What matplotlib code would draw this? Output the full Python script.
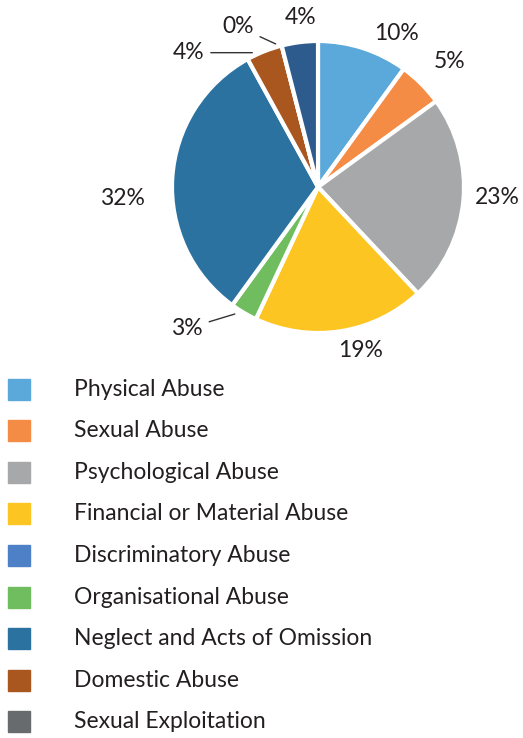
import matplotlib.pyplot as plt
from matplotlib.patches import Rectangle

plt.rcParams["font.family"] = ["Lato", "DejaVu Sans"]

# pie order (clockwise from 12 o'clock)
categories = [
    "Physical Abuse",
    "Sexual Abuse",
    "Psychological Abuse",
    "Financial or Material Abuse",
    "Discriminatory Abuse",
    "Organisational Abuse",
    "Neglect and Acts of Omission",
    "Domestic Abuse",
    "Sexual Exploitation",
    "Other",
]
values = [10, 5, 23, 19, 0, 3, 32, 4, 0, 4]
colors = [
    "#5ba8db", "#f58c45", "#a6a8a9", "#fdc521", "#4d80c6",
    "#70bd5f", "#2b72a1", "#a9561f", "#686b6d", "#2e5b8e",
]
legend_items = categories[:9]

text_col = "#231f20"
fs = 16.5

fig = plt.figure(figsize=(5.23, 7.38), dpi=100)
W, H = 523, 738
cx, cy, r = 318, 187, 146
ax = fig.add_axes([(cx - r) / W, (H - cy - r) / H, 2 * r / W, 2 * r / H])

shown = [i for i, v in enumerate(values) if v > 0 or categories[i] == "Sexual Exploitation"]
wedges, _ = ax.pie(
    [values[i] for i in shown],
    colors=[colors[i] for i in shown],
    startangle=90,
    counterclock=False,
    radius=1,
    wedgeprops=dict(edgecolor="white", linewidth=3),
)
ax.set_xlim(-1, 1)
ax.set_ylim(-1, 1)
ax.set_aspect("equal")

# label layout: text position, optional leader end (radius units)
layout = {
    "Physical Abuse": ((0.54, 1.05), None),
    "Sexual Abuse": ((0.90, 0.86), None),
    "Psychological Abuse": ((1.23, -0.07), None),
    "Financial or Material Abuse": ((0.29, -1.12), None),
    "Organisational Abuse": ((-0.90, -0.97), (-0.57, -0.87)),
    "Neglect and Acts of Omission": ((-1.34, -0.08), None),
    "Domestic Abuse": ((-0.89, 0.92), (-0.45, 0.92)),
    "Sexual Exploitation": ((-0.55, 1.10), (-0.29, 0.98)),
    "Other": ((-0.12, 1.16), None),
}
for i in shown:
    pos, tip = layout[categories[i]]
    label = f"{values[i]}%"
    if tip is None:
        ax.text(pos[0], pos[1], label, ha="center", va="center",
                fontsize=fs, color=text_col, clip_on=False)
    else:
        ax.annotate(label, xy=tip, xytext=pos, ha="center", va="center",
                    fontsize=fs, color=text_col, annotation_clip=False,
                    arrowprops=dict(arrowstyle="-", color="#333333", lw=1,
                                    shrinkA=3, shrinkB=0))

# legend
row0, step = 389, 41.6
for k, name in enumerate(legend_items):
    yc = row0 + k * step
    fig.patches.append(Rectangle((8 / W, 1 - (yc + 10.5) / H), 22 / W, 21 / H,
                                 transform=fig.transFigure,
                                 color=colors[categories.index(name)]))
    fig.text(74 / W, 1 - yc / H, name, ha="left", va="center",
             fontsize=fs, color=text_col)

fig.savefig("out.png", dpi=100)
